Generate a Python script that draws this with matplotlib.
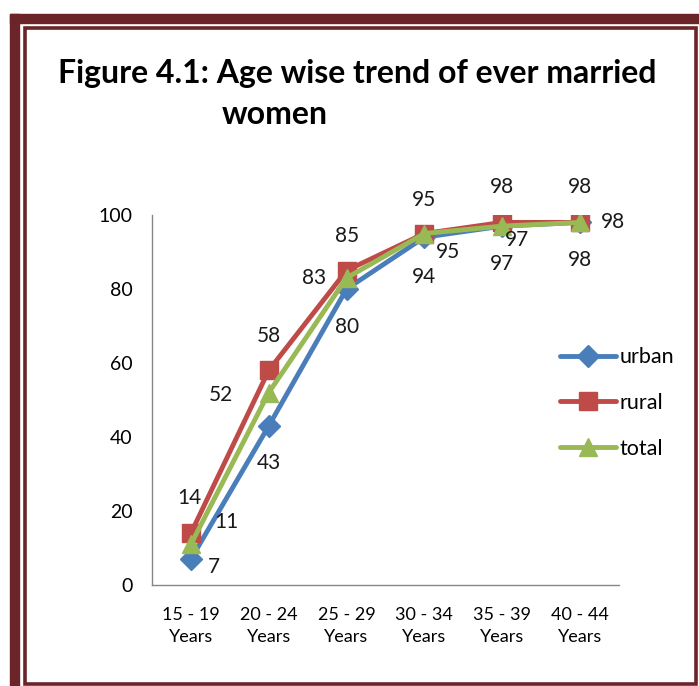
import matplotlib
matplotlib.use('Agg')
import matplotlib.pyplot as plt
from matplotlib.patches import Rectangle

# chart data
categories = ["15 - 19\nYears", "20 - 24\nYears", "25 - 29\nYears",
              "30 - 34\nYears", "35 - 39\nYears", "40 - 44\nYears"]
urban = [7, 43, 80, 94, 97, 98]
rural = [14, 58, 85, 95, 98, 98]
total = [11, 52, 83, 95, 97, 98]

# label offsets in pixels (dx, dy) for each series
urban_off = [(23, -8), (0, -37), (0, -38), (0, -40), (0, -38), (0, -38)]
rural_off = [(-2, 35), (0, 34), (0, 34), (0, 33), (0, 35), (0, 35)]
total_off = [(35, 22), (-48, -2), (-33, 0), (24, -19), (15, -14), (33, 0)]

plt.rcParams['font.family'] = ['Lato', 'DejaVu Sans']

W, H = 699, 686
fig = plt.figure(figsize=(W / 100, H / 100), dpi=100)

# decorative frame
maroon = '#6B2427'
fig.patches.append(Rectangle((10 / W, 1 - 23 / H), 1, 9 / H, transform=fig.transFigure,
                             color=maroon, zorder=0))
fig.patches.append(Rectangle((10 / W, 0), 9 / W, 1 - 14 / H, transform=fig.transFigure,
                             color=maroon, zorder=0))
fig.patches.append(Rectangle((24.5 / W, 2.5 / H), (695.5 - 24.5) / W, (683.5 - 27.5) / H,
                             transform=fig.transFigure, fill=False, edgecolor=maroon,
                             linewidth=2.6, zorder=0))

fig.text(58 / W, 1 - 73 / H, "Figure 4.1: Age wise trend of ever married",
         fontsize=23, fontweight='bold', ha='left', va='center')
fig.text(222 / W, 1 - 114 / H, "women",
         fontsize=23, fontweight='bold', ha='left', va='center')

ax = fig.add_axes([152 / W, 1 - 585 / H, (619 - 152) / W, (585 - 215) / H])
x = list(range(len(categories)))

series = [
    (urban, 'urban', '#4A7EBB', 'D', 11, urban_off),
    (rural, 'rural', '#BE4B48', 's', 13, rural_off),
    (total, 'total', '#98B954', '^', 13, total_off),
]
for vals, name, col, mk, ms, offs in series:
    ax.plot(x, vals, color=col, lw=3.5, marker=mk, markersize=ms,
            markeredgecolor=col, label=name, solid_capstyle='round')
for vals, name, col, mk, ms, offs in series:
    for xi, v, (dx, dy) in zip(x, vals, offs):
        ax.annotate(str(v), (xi, v), xytext=(dx, dy), textcoords='offset pixels',
                    ha='center', va='center', fontsize=15, color='#1a1a1a')

ax.set_xlim(-0.5, len(categories) - 0.5)
ax.set_ylim(0, 100)
ax.set_yticks([0, 20, 40, 60, 80, 100])
ax.set_xticks(x)
ax.set_xticklabels(categories, fontsize=13, linespacing=1.45)
ax.tick_params(axis='y', length=0, pad=14, labelsize=14)
ax.tick_params(axis='x', length=0, pad=16)

for s in ['top', 'right']:
    ax.spines[s].set_visible(False)
for s in ['left', 'bottom']:
    ax.spines[s].set_color('#868686')
    ax.spines[s].set_linewidth(1)

fig.legend(loc='center left', bbox_to_anchor=(560 / W, 1 - 403 / H), frameon=False,
           fontsize=15.5, handlelength=2.6, handletextpad=0.15, labelspacing=1.2,
           borderpad=0, borderaxespad=0)

fig.savefig('out.png', dpi=100)
